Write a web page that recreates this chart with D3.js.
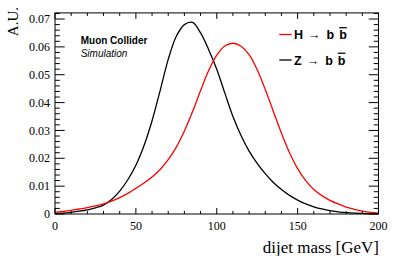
<!DOCTYPE html>
<html>

<head>
  <meta charset="utf-8">
  <style>
    body {
      margin: 0;
      background-color: #ffffff;
    }

    .tick-label {
      font-family: 'Liberation Serif', 'Times New Roman', serif;
      font-size: 12px;
      fill: #000;
    }

    .axis-title {
      font-family: 'Liberation Serif', 'Times New Roman', serif;
      fill: #000;
    }

    .legend {
      font-family: 'Liberation Sans', Arial, sans-serif;
      font-size: 12.5px;
      fill: #000;
    }
  </style>
</head>

<body>
  <div id="chart"></div>

  <script src="https://cdn.jsdelivr.net/npm/d3@7"></script>
  <script>
    // dijet mass bin centres [GeV]
    var mass = [0, 5, 10, 15, 20, 25, 30, 35, 40, 45, 50, 55, 60, 65, 70, 75, 80, 85, 90, 95, 100,
      105, 110, 115, 120, 125, 130, 135, 140, 145, 150, 155, 160, 165, 170, 175, 180, 185, 190, 195, 200];

    // H -> b bbar (red)
    var higgs = [0.0006, 0.0009, 0.0013, 0.0018, 0.0023, 0.0029, 0.0036, 0.0046, 0.0059, 0.0074, 0.0092,
      0.0111, 0.0133, 0.0160, 0.0195, 0.0240, 0.0298, 0.0367, 0.0443, 0.0515, 0.0570,
      0.0603, 0.0613, 0.0602, 0.0572, 0.0518, 0.0447, 0.0368, 0.0290, 0.0220, 0.0163,
      0.0120, 0.0088, 0.0066, 0.0049, 0.0036, 0.0025, 0.0017, 0.0010, 0.0006, 0.0003];

    // Z -> b bbar (black)
    var zboson = [0.0001, 0.0003, 0.0006, 0.0010, 0.0015, 0.0022, 0.0032, 0.0052, 0.0082, 0.0123, 0.0175,
      0.0245, 0.0335, 0.0443, 0.0555, 0.0638, 0.0680, 0.0688, 0.0650, 0.0590, 0.0520,
      0.0434, 0.0350, 0.0282, 0.0226, 0.0182, 0.0145, 0.0113, 0.0088, 0.0067, 0.0050,
      0.0036, 0.0026, 0.0018, 0.0012, 0.0008, 0.0005, 0.0003, 0.0002, 0.0001, 0.0001];

    var xMajor = [0, 50, 100, 150, 200];
    var xMinor = [10, 20, 30, 40, 60, 70, 80, 90, 110, 120, 130, 140, 160, 170, 180, 190];
    var yMajor = [0, 0.01, 0.02, 0.03, 0.04, 0.05, 0.06, 0.07];
    var yTickLabels = ['0', '0.01', '0.02', '0.03', '0.04', '0.05', '0.06', '0.07'];

    var width = 399,
      height = 256;

    var frame = {
      left: 55,
      right: 378.5,
      top: 12.9,
      bottom: 214
    };

    var x = d3.scaleLinear()
      .domain([0, 200])
      .range([frame.left, frame.right]);

    var y = d3.scaleLinear()
      .domain([0, 0.0722])
      .range([frame.bottom, frame.top]);

    // minor y ticks every 0.002 except the majors
    var yMinor = [];
    yMajor.forEach(function(v) {
      [1, 2, 3, 4].forEach(function(k) {
        var t = +(v + k * 0.002).toFixed(3);
        if (t < 0.0722) yMinor.push(t);
      });
    });

    var svg = d3.select('#chart').append('svg')
      .attr('width', width)
      .attr('height', height)
      .style('background', '#fff');

    var tk = {
      yMaj: 9.7,
      yMin: 4.8,
      xMaj: 6,
      xMin: 3
    };

    var g = svg.append('g');

    // curves
    var line = d3.line()
      .x(function(d, i) { return x(mass[i]); })
      .y(function(d) { return y(d); })
      .curve(d3.curveCatmullRom.alpha(0.5));

    g.append('path')
      .datum(zboson)
      .attr('d', line)
      .attr('fill', 'none')
      .attr('stroke', '#000')
      .attr('stroke-width', 1.3);

    g.append('path')
      .datum(higgs)
      .attr('d', line)
      .attr('fill', 'none')
      .attr('stroke', '#ff0000')
      .attr('stroke-width', 1.3);

    // frame
    g.append('rect')
      .attr('x', frame.left)
      .attr('y', frame.top)
      .attr('width', frame.right - frame.left)
      .attr('height', frame.bottom - frame.top)
      .attr('fill', 'none')
      .attr('stroke', '#000')
      .attr('stroke-width', 1);

    // x ticks, bottom and top
    function xTicks(vals, len) {
      g.selectAll(null).data(vals).enter().append('line')
        .attr('x1', x).attr('x2', x)
        .attr('y1', frame.bottom).attr('y2', frame.bottom - len)
        .attr('stroke', '#000');
      g.selectAll(null).data(vals).enter().append('line')
        .attr('x1', x).attr('x2', x)
        .attr('y1', frame.top).attr('y2', frame.top + len)
        .attr('stroke', '#000');
    }
    xTicks(xMajor, tk.xMaj);
    xTicks(xMinor, tk.xMin);

    // y ticks, left and right
    function yTicks(vals, len) {
      g.selectAll(null).data(vals).enter().append('line')
        .attr('y1', y).attr('y2', y)
        .attr('x1', frame.left).attr('x2', frame.left + len)
        .attr('stroke', '#000');
      g.selectAll(null).data(vals).enter().append('line')
        .attr('y1', y).attr('y2', y)
        .attr('x1', frame.right).attr('x2', frame.right - len)
        .attr('stroke', '#000');
    }
    yTicks(yMajor, tk.yMaj);
    yTicks(yMinor, tk.yMin);

    // tick labels
    g.selectAll(null).data(xMajor).enter().append('text')
      .attr('class', 'tick-label')
      .attr('x', x)
      .attr('y', 230)
      .attr('text-anchor', 'middle')
      .text(function(d) { return d; });

    g.selectAll(null).data(yMajor).enter().append('text')
      .attr('class', 'tick-label')
      .attr('x', 50)
      .attr('y', y)
      .attr('dy', '0.35em')
      .attr('text-anchor', 'end')
      .text(function(d, i) { return yTickLabels[i]; });

    // axis titles
    svg.append('text')
      .attr('class', 'axis-title')
      .attr('x', 379)
      .attr('y', 253)
      .attr('text-anchor', 'end')
      .style('font-size', '17px')
      .text('dijet mass [GeV]');

    svg.append('text')
      .attr('class', 'axis-title')
      .attr('transform', 'translate(17.5,7) rotate(-90)')
      .attr('text-anchor', 'end')
      .style('font-size', '15px')
      .text('A.U.');

    // experiment label
    svg.append('text')
      .attr('class', 'legend')
      .attr('x', 80.7)
      .attr('y', 44.3)
      .style('font-size', '10px')
      .style('font-weight', 'bold')
      .text('Muon Collider');

    svg.append('text')
      .attr('class', 'legend')
      .attr('x', 80.7)
      .attr('y', 57.3)
      .style('font-size', '10px')
      .style('font-style', 'italic')
      .text('Simulation');

    // legend
    var entries = [
      { name: 'H', color: '#ff0000', y: 34.5 },
      { name: 'Z', color: '#000000', y: 60 }
    ];

    var leg = svg.selectAll('.leg').data(entries).enter().append('g')
      .attr('class', 'leg')
      .attr('transform', function(d) { return 'translate(0,' + d.y + ')'; });

    leg.append('line')
      .attr('x1', 279.3).attr('x2', 291.7)
      .attr('stroke', function(d) { return d.color; })
      .attr('stroke-width', 1.3);

    var lt = leg.append('text')
      .attr('class', 'legend')
      .attr('x', 294)
      .attr('y', 4.6);

    lt.append('tspan')
      .style('font-weight', 'bold')
      .text(function(d) { return d.name; });
    lt.append('tspan')
      .attr('dx', 5)
      .style('font-weight', 'normal')
      .text('\u2192');
    lt.append('tspan')
      .attr('dx', 6)
      .style('font-weight', 'bold')
      .text('b');
    lt.append('tspan')
      .attr('dx', 5)
      .style('font-weight', 'bold')
      .style('text-decoration', 'overline')
      .text('b');
  </script>

</body>

</html>
